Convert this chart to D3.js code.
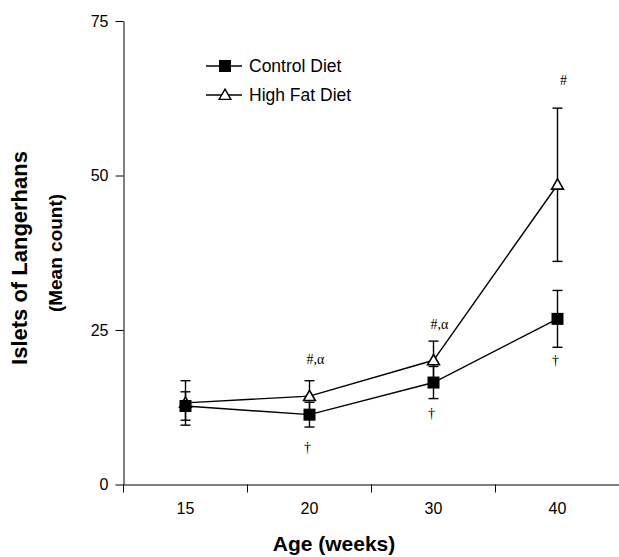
<!DOCTYPE html>
<html>
<head>
<meta charset="utf-8">
<script src="https://cdn.jsdelivr.net/npm/d3@7"></script>
<style>
  html, body { margin: 0; padding: 0; background: #fff; }
  svg { display: block; }
  text { font-family: "Liberation Sans", Arial, Helvetica, sans-serif; fill: #000; }
</style>
</head>
<body>
<svg id="chart" width="619" height="557"></svg>
<script>
// ---- data ----
const categories = ["15", "20", "30", "40"];
const controlMean = [12.7, 11.3, 16.5, 26.8];
const controlErr  = [2.3, 2.0, 2.6, 4.6];
const hfdMean     = [13.2, 14.3, 20.1, 48.5];
const hfdErr      = [3.6, 2.5, 3.1, 12.4];
const yTicks = [0, 25, 50, 75];
const seriesNames = ["Control Diet", "High Fat Diet"];
// annotation labels and their vertical positions (in data units)
const annotLabels = ["†", "†", "†", "#,α", "#,α", "#"];
const annotCats   = ["20", "30", "40", "20", "30", "40"];
const annotValues = [5.2, 10.7, 19.3, 19.5, 25.1, 64.7];
const xTitle = "Age (weeks)";
const yTitle1 = "Islets of Langerhans";
const yTitle2 = "(Mean count)";

// ---- chart ----
const svg = d3.select("#chart");
const x = d3.scaleBand().domain(categories).range([123.5, 619.5]).padding(0);
const y = d3.scaleLinear().domain([0, 75]).range([484.5, 21]);
const cx = c => x(c) + x.bandwidth() / 2;

// y axis
const yAxis = svg.append("g").attr("transform", "translate(123.5,0)")
  .call(d3.axisLeft(y).tickValues(yTicks).tickSize(8).tickPadding(7).tickSizeOuter(0));
yAxis.select(".domain").attr("stroke", "#000").attr("stroke-width", 1);
yAxis.selectAll(".tick line").attr("stroke", "#000");
yAxis.selectAll("text").style("font-size", "16px").attr("font-family", null);

// x axis
const xAxis = svg.append("g").attr("transform", "translate(0,484.5)")
  .call(d3.axisBottom(x).tickSize(0).tickPadding(18).tickSizeOuter(0));
xAxis.select(".domain").attr("stroke", "#000").attr("stroke-width", 1);
xAxis.selectAll("text").style("font-size", "16px").attr("font-family", null);
xAxis.selectAll(".edge").data(categories).enter().append("line")
  .attr("class", "edge")
  .attr("x1", d => x(d)).attr("x2", d => x(d))
  .attr("y1", 0).attr("y2", 8).attr("stroke", "#000");

// axis titles
svg.append("text").attr("x", 334).attr("y", 551).attr("text-anchor", "middle")
  .style("font-size", "21px").style("font-weight", "bold").text(xTitle);
svg.append("text").attr("transform", "translate(27,258) rotate(-90)").attr("text-anchor", "middle")
  .style("font-size", "22px").style("font-weight", "bold").text(yTitle1);
svg.append("text").attr("transform", "translate(62,253) rotate(-90)").attr("text-anchor", "middle")
  .style("font-size", "19px").style("font-weight", "bold").text(yTitle2);

const controlData = categories.map((c, i) => ({c, v: controlMean[i], e: controlErr[i]}));
const hfdData = categories.map((c, i) => ({c, v: hfdMean[i], e: hfdErr[i]}));

const line = d3.line().x(d => cx(d.c)).y(d => y(d.v));
svg.append("path").datum(hfdData).attr("d", line)
  .attr("fill", "none").attr("stroke", "#000").attr("stroke-width", 1.4);
svg.append("path").datum(controlData).attr("d", line)
  .attr("fill", "none").attr("stroke", "#000").attr("stroke-width", 1.4);

function errorBars(data) {
  const g = svg.append("g").attr("stroke", "#000").attr("stroke-width", 1.4);
  data.forEach(d => {
    const xc = cx(d.c);
    g.append("line").attr("x1", xc).attr("x2", xc).attr("y1", y(d.v + d.e)).attr("y2", y(d.v - d.e));
    [d.v + d.e, d.v - d.e].forEach(v => {
      g.append("line").attr("x1", xc - 5).attr("x2", xc + 5).attr("y1", y(v)).attr("y2", y(v));
    });
  });
}
errorBars(hfdData);
errorBars(controlData);

const tri = d3.symbol().type(d3.symbolTriangle).size(60);
svg.selectAll(".hfd").data(hfdData).enter().append("path")
  .attr("transform", d => `translate(${cx(d.c)},${y(d.v) + 1})`)
  .attr("d", tri).attr("fill", "#fff").attr("stroke", "#000").attr("stroke-width", 1.6);
svg.selectAll(".ctl").data(controlData).enter().append("rect")
  .attr("x", d => cx(d.c) - 6).attr("y", d => y(d.v) - 6)
  .attr("width", 12).attr("height", 12).attr("fill", "#000");

// annotations
svg.selectAll(".annot").data(annotLabels).enter().append("text")
  .attr("x", (d, i) => cx(annotCats[i]) + (d === "†" ? -2 : 6))
  .attr("y", (d, i) => y(annotValues[i]))
  .attr("text-anchor", "middle")
  .style("font-family", "'Liberation Serif', 'Times New Roman', serif")
  .style("font-size", "14px")
  .style("fill", "#000")
  .text(d => d);

// legend
const legend = svg.append("g");
const legY = [66, 95];
seriesNames.forEach((name, i) => {
  legend.append("line").attr("x1", 206).attr("x2", 242).attr("y1", legY[i]).attr("y2", legY[i])
    .attr("stroke", "#000").attr("stroke-width", 1.4);
  if (i === 0) {
    legend.append("rect").attr("x", 219).attr("y", legY[i] - 6).attr("width", 12).attr("height", 12).attr("fill", "#000");
  } else {
    legend.append("path").attr("transform", `translate(225,${legY[i] + 1})`).attr("d", tri)
      .attr("fill", "#fff").attr("stroke", "#000").attr("stroke-width", 1.4);
  }
  legend.append("text").attr("x", 249).attr("y", legY[i] + 6).style("font-size", "17.5px").text(name);
});
</script>
</body>
</html>
